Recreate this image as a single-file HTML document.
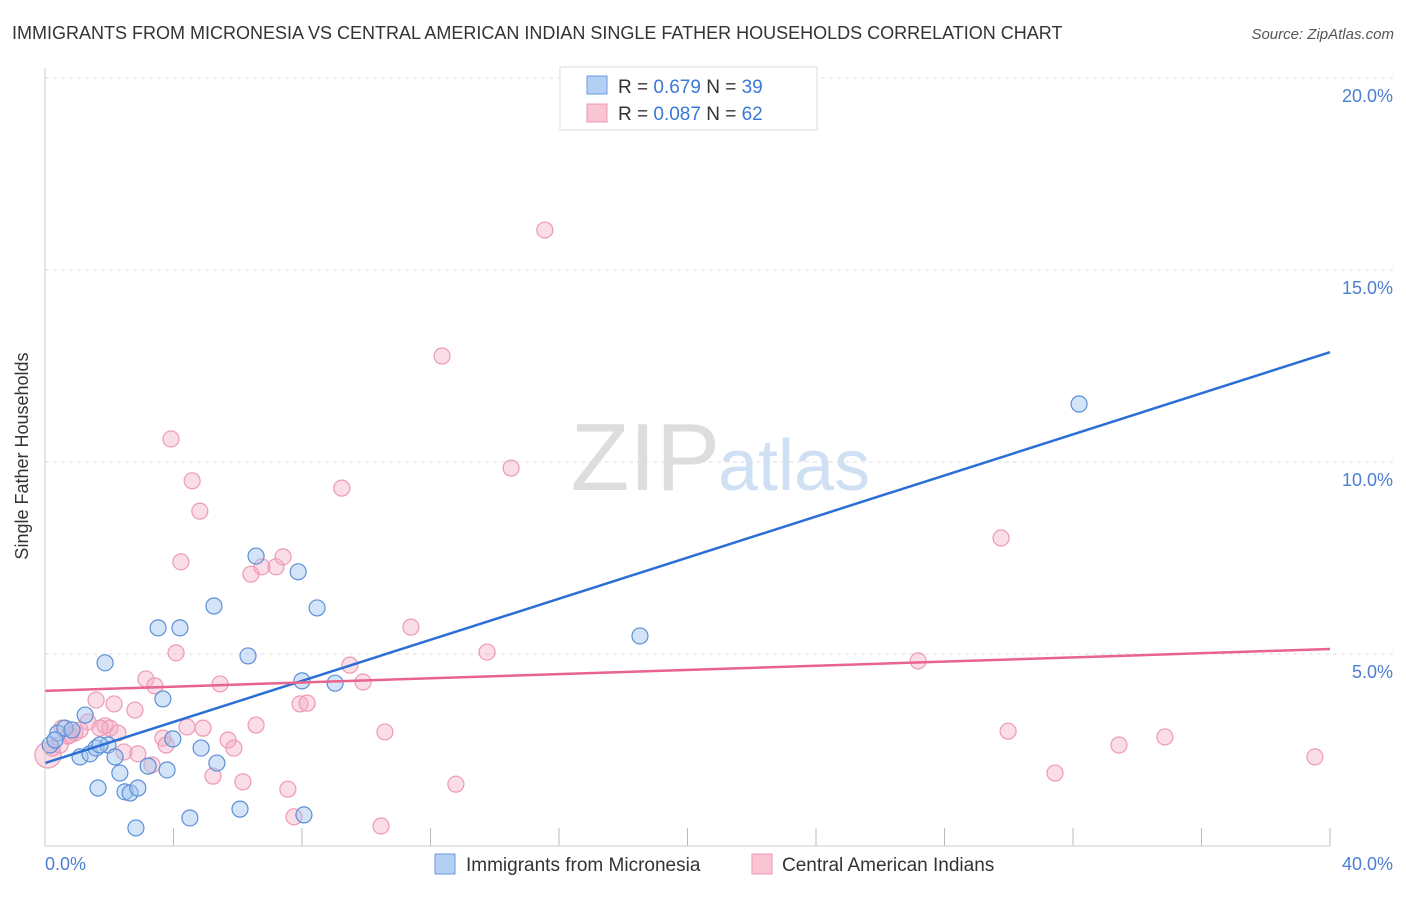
<!DOCTYPE html>
<html><head><meta charset="utf-8"><style>
body{margin:0;background:#fff;font-family:"Liberation Sans",sans-serif;}
svg text{font-family:"Liberation Sans",sans-serif;}
</style></head><body>
<svg id="chart" width="1406" height="892">
<text x="12" y="39" font-size="18" fill="#333">IMMIGRANTS FROM MICRONESIA VS CENTRAL AMERICAN INDIAN SINGLE FATHER HOUSEHOLDS CORRELATION CHART</text>
<text x="1394" y="39" font-size="15" fill="#555" text-anchor="end" font-style="italic">Source: ZipAtlas.com</text>
<text x="720" y="490" font-size="96" fill="#ddd" text-anchor="end" font-family="Liberation Serif">ZIP</text>
<text x="718" y="490" font-size="72" fill="#cfe0f4">atlas</text>
<g id="grid"></g><g id="pts"></g><g id="lines"></g>
<line x1="45" y1="68" x2="45" y2="846" stroke="#ccc"/>
<line x1="45" y1="846" x2="1330" y2="846" stroke="#ccc"/>
<text x="28" y="456" font-size="18" fill="#333" text-anchor="middle" transform="rotate(-90 28 456)">Single Father Households</text>
<text x="45" y="870" font-size="18" fill="#4a7fd4">0.0%</text>
<text x="1393" y="870" font-size="18" fill="#4a7fd4" text-anchor="end">40.0%</text>
<g>
<rect x="560" y="67" width="257" height="63" fill="#fff" stroke="#ddd"/>
<rect x="587" y="76" width="20" height="18" fill="#b3cff2" stroke="#6a9ae0"/>
<rect x="587" y="104" width="20" height="18" fill="#f9c4d4" stroke="#ec9ab3"/>
<text x="618" y="93" font-size="19" fill="#333">R = <tspan fill="#3a78d8">0.679</tspan>   N = <tspan fill="#3a78d8">39</tspan></text>
<text x="618" y="120" font-size="19" fill="#333">R = <tspan fill="#3a78d8">0.087</tspan>   N = <tspan fill="#3a78d8">62</tspan></text>
</g>
<g>
<rect x="435" y="854" width="20" height="20" fill="#b3cff2" stroke="#6a9ae0"/>
<text x="466" y="871" font-size="19" fill="#333">Immigrants from Micronesia</text>
<rect x="752" y="854" width="20" height="20" fill="#f9c4d4" stroke="#ec9ab3"/>
<text x="782" y="871" font-size="19" fill="#333">Central American Indians</text>
</g>
</svg>
<script>
const yTicks=[5,10,15,20];
const yTickLabels=["5.0%","10.0%","15.0%","20.0%"];
const xTicks=[0,4,8,12,16,20,24,28,32,36,40];
const blueX=[0.16,0.40,0.62,0.84,1.09,1.25,1.40,1.59,1.65,1.87,1.96,2.18,2.33,2.49,2.65,2.89,3.21,3.52,3.67,3.80,3.98,4.20,4.51,4.86,5.26,5.35,6.07,6.32,6.57,7.88,8.00,8.06,8.47,9.03,2.83,18.52,32.19,0.31,1.71];
const blueY=[2.63,2.94,3.07,3.02,2.32,3.41,2.40,2.55,1.51,4.77,2.63,2.32,1.90,1.41,1.38,1.51,2.08,5.68,3.83,1.98,2.79,5.68,0.73,2.55,6.25,2.16,0.96,4.95,7.55,7.14,4.30,0.81,6.20,4.24,0.47,5.47,11.51,2.76,2.63];
const pinkX=[0.09,0.22,0.47,0.72,0.93,1.09,1.34,1.59,1.87,2.02,2.15,2.27,2.46,2.80,2.89,3.14,3.33,3.42,3.67,3.77,3.92,4.08,4.23,4.42,4.58,4.82,4.92,5.23,5.45,5.70,5.88,6.16,6.41,6.57,6.75,7.19,7.41,7.56,7.75,7.94,8.16,9.24,9.49,9.90,10.46,10.58,11.39,12.36,12.79,13.76,14.51,15.56,27.18,29.76,29.98,31.44,33.43,34.86,39.53,0.78,0.53,1.71];
const pinkY=[2.37,2.55,2.63,2.86,2.94,3.02,3.23,3.80,3.13,3.07,3.70,2.94,2.45,3.54,2.40,4.35,2.11,4.17,2.81,2.63,10.60,5.03,7.40,3.10,9.51,8.72,3.07,1.82,4.22,2.76,2.55,1.67,7.08,3.15,7.27,7.27,7.53,1.48,0.76,3.70,3.72,9.32,4.71,4.27,0.52,2.97,5.70,12.76,1.61,5.05,9.84,16.04,4.82,8.02,2.99,1.90,2.63,2.84,2.32,2.89,3.07,3.07];
const blueTrend=[2.16,12.86];
const pinkTrend=[4.04,5.13];
const NS="http://www.w3.org/2000/svg";
const sx=v=>45+v/40*1285;
const sy=v=>846-v/5*192;
function mk(t,a,p){const e=document.createElementNS(NS,t);for(const k in a)e.setAttribute(k,a[k]);p.appendChild(e);return e;}
const grid=document.getElementById('grid');
yTicks.forEach((t,i)=>{
 const l=mk('line',{x1:45,x2:1393,y1:sy(t),y2:sy(t),stroke:'#ddd','stroke-dasharray':'4,4'},grid);
 
 
 const tx=mk('text',{x:1393,y:sy(t)+24,'font-size':18,fill:'#4a7fd4','text-anchor':'end'},grid);
 tx.textContent=yTickLabels[i];
 
 
});
xTicks.forEach(t=>{
 const l=mk('line',{x1:sx(t),x2:sx(t),y1:828,y2:846,stroke:'#bbb'},grid);
 
 
});
const pts=document.getElementById('pts');
pinkX.forEach((x,i)=>{
 const c=mk('circle',{cx:sx(x),cy:sy(pinkY[i]),r:i==0?13:8,fill:'rgba(244,170,195,0.4)',stroke:'#ec9ab3','stroke-width':1.2},pts);
 
 
});
blueX.forEach((x,i)=>{
 const c=mk('circle',{cx:sx(x),cy:sy(blueY[i]),r:8,fill:'rgba(160,196,240,0.45)',stroke:'#5b8fd6','stroke-width':1.2},pts);
 
 
});
const lines=document.getElementById('lines');
const bl=mk('line',{x1:sx(0),y1:sy(blueTrend[0]),x2:sx(40),y2:sy(blueTrend[1]),stroke:'#2b6fd6','stroke-width':2.5},lines);


const pl=mk('line',{x1:sx(0),y1:sy(pinkTrend[0]),x2:sx(40),y2:sy(pinkTrend[1]),stroke:'#e8638f','stroke-width':2.5},lines);


</script>
</body></html>
